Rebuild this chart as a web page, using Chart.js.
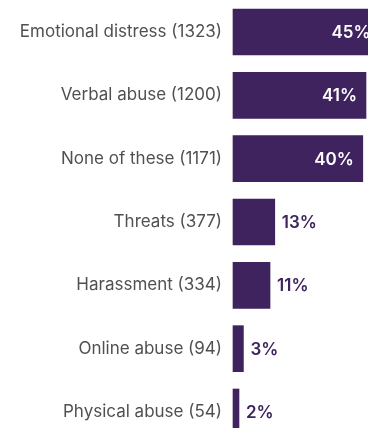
<!DOCTYPE html>
<html>
<head>
<meta charset="utf-8">
<script src="https://cdn.jsdelivr.net/npm/chart.js@4"></script>
<style>
  html, body { margin: 0; padding: 0; background: #fff; }
  #wrap { width: 368px; height: 428px; }
</style>
</head>
<body>
<div id="wrap"><canvas id="chart"></canvas></div>
<script>
// data
const categories = [
	'Emotional distress (1323)',
	'Verbal abuse (1200)',
	'None of these (1171)',
	'Threats (377)',
	'Harassment (334)',
	'Online abuse (94)',
	'Physical abuse (54)'
];
const counts = [1323, 1200, 1171, 377, 334, 94, 54];
const shares = ['45%', '41%', '40%', '13%', '11%', '3%', '2%'];

const barColour = '#3f235f';
const textGrey = '#505050';

// puts the % label inside big bars, after small ones
const shareLabels = {
	id: 'shareLabels',
	afterDatasetsDraw(chart) {
		let ctx = chart.ctx;
		let meta = chart.getDatasetMeta(0);
		ctx.save();
		ctx.font = '600 17px Inter';
		ctx.textBaseline = 'middle';
		meta.data.forEach(function(bar, i) {
			let width = bar.x - bar.base;
			if (width > 80) {
				ctx.fillStyle = '#ffffff';
				ctx.textAlign = 'right';
				ctx.fillText(shares[i], bar.x - 9, bar.y + 1);
			} else {
				ctx.fillStyle = barColour;
				ctx.textAlign = 'left';
				ctx.fillText(shares[i], bar.x + 7, bar.y + 1);
			}
		});
		ctx.restore();
	}
};

new Chart(document.getElementById('chart'), {
	type: 'bar',
	data: {
		labels: categories,
		datasets: [{
			data: counts,
			backgroundColor: barColour,
			barThickness: 46,
			clip: false
		}]
	},
	options: {
		indexAxis: 'y',
		responsive: true,
		maintainAspectRatio: false,
		animation: false,
		layout: { padding: { top: 32, bottom: 16, left: 0, right: 0 } },
		plugins: {
			legend: { display: false },
			tooltip: { enabled: false }
		},
		scales: {
			x: {
				display: false,
				min: 0,
				max: 1218
			},
			y: {
				offset: false,
				grid: { display: false, drawTicks: false },
				border: { display: false },
				ticks: {
					padding: 11,
					color: textGrey,
					font: { family: 'Inter', size: 17 }
				},
				afterFit(scale) {
					scale.width = 233;
					// don't let the label padding push the plot in
					scale.paddingTop = 0;
					scale.paddingBottom = 0;
				}
			}
		}
	},
	plugins: [shareLabels]
});
</script>
</body>
</html>
